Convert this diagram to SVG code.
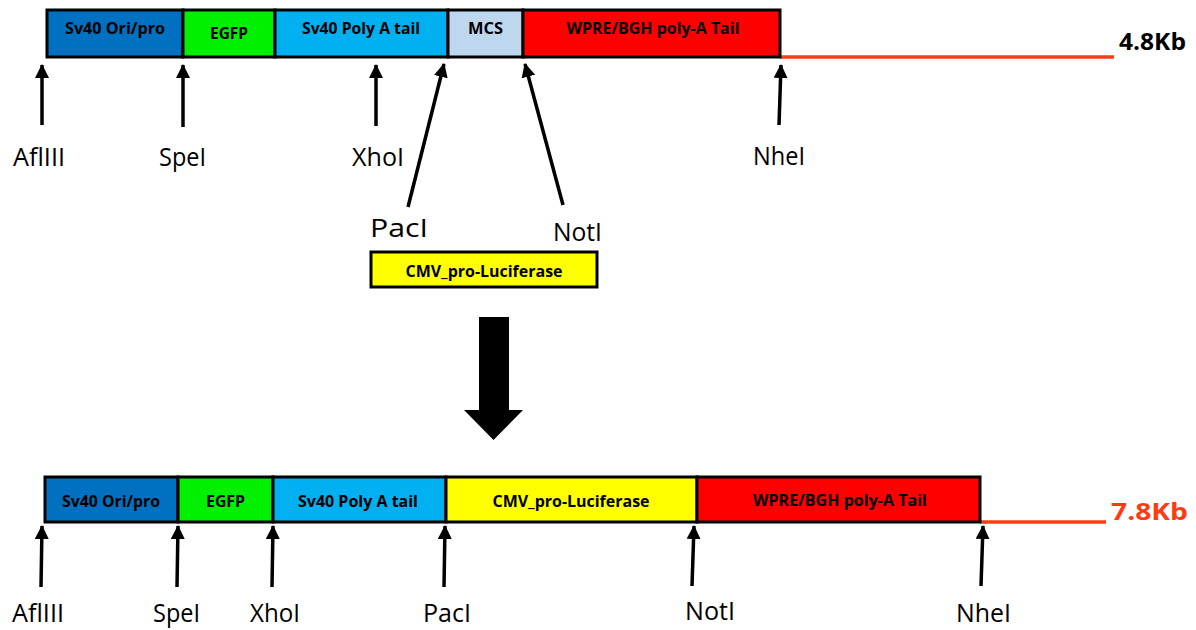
<svg xmlns="http://www.w3.org/2000/svg" width="1196" height="630" viewBox="0 0 1196 630">
  <defs>
    <marker id="head" viewBox="0 0 14 14" refX="13" refY="7" markerWidth="14" markerHeight="14" markerUnits="userSpaceOnUse" orient="auto">
      <path d="M0,0 L14,7 L0,14 Z" fill="#000"/>
    </marker>
    <style>
      .seg { stroke: #000; stroke-width: 3; }
      .segtxt { font-family: "Open Sans", "Liberation Sans", sans-serif; font-weight: bold; font-size: 16px; fill: #000; text-anchor: middle; }
      .site { font-family: "Open Sans", "Liberation Sans", sans-serif; font-size: 26px; fill: #000; }
      .size { font-family: "Open Sans", "Liberation Sans", sans-serif; font-weight: bold; font-size: 24px; }
      .ptr { stroke: #000; stroke-width: 3.5; fill: none; marker-end: url(#head); }
      .tail { stroke: #FF3B14; stroke-width: 3.5; }
    </style>
  </defs>
  <rect width="1196" height="630" fill="#fff"/>

  <!-- Original vector, 4.8 Kb -->
  <g id="vector-top">
    <line class="tail" x1="780" y1="57" x2="1114" y2="57"/>
    <g id="top-sv40-ori">
      <rect class="seg" x="47" y="10" width="136" height="47" fill="#0070C0"/>
      <text class="segtxt" x="115" y="34" textLength="100" lengthAdjust="spacingAndGlyphs">Sv40 Ori/pro</text>
    </g>
    <g id="top-egfp">
      <rect class="seg" x="183" y="10" width="92" height="47" fill="#00F000"/>
      <text class="segtxt" x="229" y="39" textLength="38" lengthAdjust="spacingAndGlyphs">EGFP</text>
    </g>
    <g id="top-sv40-polya">
      <rect class="seg" x="275" y="10" width="173" height="47" fill="#00B0F0"/>
      <text class="segtxt" x="361" y="34" textLength="118" lengthAdjust="spacingAndGlyphs">Sv40 Poly A tail</text>
    </g>
    <g id="top-mcs">
      <rect class="seg" x="448" y="10" width="75" height="47" fill="#BDD7EE"/>
      <text class="segtxt" x="485.5" y="34" textLength="35" lengthAdjust="spacingAndGlyphs">MCS</text>
    </g>
    <g id="top-wpre">
      <rect class="seg" x="523" y="10" width="257" height="47" fill="#FF0000"/>
      <text class="segtxt" x="653" y="34" textLength="173" lengthAdjust="spacingAndGlyphs">WPRE/BGH poly-A Tail</text>
    </g>
    <text class="size" x="1119" y="50" fill="#000" textLength="67" lengthAdjust="spacingAndGlyphs">4.8Kb</text>
  </g>

  <!-- Insert cassette -->
  <g id="insert">
    <rect class="seg" x="371" y="252" width="226" height="35" fill="#FFFF00"/>
    <text class="segtxt" x="484" y="277" textLength="157" lengthAdjust="spacingAndGlyphs">CMV_pro-Luciferase</text>
  </g>

  <!-- Restriction site pointers -->
  <g id="connectors">
    <line class="ptr" x1="42" y1="125" x2="42" y2="65"/>
    <line class="ptr" x1="183" y1="127" x2="183" y2="65"/>
    <line class="ptr" x1="376" y1="126" x2="376" y2="65"/>
    <line class="ptr" x1="779" y1="125" x2="781" y2="65"/>
    <line class="ptr" x1="408" y1="207" x2="444" y2="64"/>
    <line class="ptr" x1="563" y1="205" x2="525" y2="64"/>

    <line class="ptr" x1="41" y1="587" x2="42" y2="526"/>
    <line class="ptr" x1="177" y1="587" x2="178" y2="526"/>
    <line class="ptr" x1="272" y1="587" x2="273" y2="526"/>
    <line class="ptr" x1="444" y1="587" x2="445" y2="526"/>
    <line class="ptr" x1="692" y1="586" x2="694" y2="526"/>
    <line class="ptr" x1="981" y1="586" x2="983" y2="526"/>

    <!-- Block arrow between the two constructs -->
    <path d="M479,317 H509 V410 H523 L493.5,440 L464,410 H479 Z" fill="#000"/>
  </g>

  <!-- Site labels, top -->
  <g id="labels-top">
    <text class="site" x="13" y="166" textLength="52" lengthAdjust="spacingAndGlyphs">AflIII</text>
    <text class="site" x="159" y="166" textLength="47" lengthAdjust="spacingAndGlyphs">SpeI</text>
    <text class="site" x="352" y="166" textLength="52" lengthAdjust="spacingAndGlyphs">XhoI</text>
    <text class="site" x="753" y="165" textLength="52" lengthAdjust="spacingAndGlyphs">NheI</text>
    <text class="site" x="370" y="237" textLength="58" lengthAdjust="spacingAndGlyphs">PacI</text>
    <text class="site" x="553" y="241" textLength="49" lengthAdjust="spacingAndGlyphs">NotI</text>
  </g>

  <!-- Recombinant vector, 7.8 Kb -->
  <g id="vector-bottom">
    <line class="tail" x1="980" y1="522" x2="1106" y2="522"/>
    <g id="bot-sv40-ori">
      <rect class="seg" x="45" y="477" width="133" height="45" fill="#0070C0"/>
      <text class="segtxt" x="111" y="507" textLength="98" lengthAdjust="spacingAndGlyphs">Sv40 Ori/pro</text>
    </g>
    <g id="bot-egfp">
      <rect class="seg" x="178" y="477" width="95" height="45" fill="#00F000"/>
      <text class="segtxt" x="225.5" y="507" textLength="39" lengthAdjust="spacingAndGlyphs">EGFP</text>
    </g>
    <g id="bot-sv40-polya">
      <rect class="seg" x="273" y="477" width="173" height="45" fill="#00B0F0"/>
      <text class="segtxt" x="358" y="507" textLength="120" lengthAdjust="spacingAndGlyphs">Sv40 Poly A tail</text>
    </g>
    <g id="bot-cmv">
      <rect class="seg" x="446" y="477" width="251" height="45" fill="#FFFF00"/>
      <text class="segtxt" x="571" y="507" textLength="157" lengthAdjust="spacingAndGlyphs">CMV_pro-Luciferase</text>
    </g>
    <g id="bot-wpre">
      <rect class="seg" x="697" y="477" width="283" height="45" fill="#FF0000"/>
      <text class="segtxt" x="840" y="506" textLength="174" lengthAdjust="spacingAndGlyphs">WPRE/BGH poly-A Tail</text>
    </g>
    <text class="size" x="1111" y="520" fill="#FF3B14" textLength="77" lengthAdjust="spacingAndGlyphs">7.8Kb</text>
  </g>

  <!-- Site labels, bottom -->
  <g id="labels-bottom">
    <text class="site" x="12" y="622" textLength="52" lengthAdjust="spacingAndGlyphs">AflIII</text>
    <text class="site" x="153" y="622" textLength="47" lengthAdjust="spacingAndGlyphs">SpeI</text>
    <text class="site" x="250" y="622" textLength="50" lengthAdjust="spacingAndGlyphs">XhoI</text>
    <text class="site" x="423" y="622" textLength="48" lengthAdjust="spacingAndGlyphs">PacI</text>
    <text class="site" x="685" y="620" textLength="50" lengthAdjust="spacingAndGlyphs">NotI</text>
    <text class="site" x="956" y="622" textLength="55" lengthAdjust="spacingAndGlyphs">NheI</text>
  </g>
</svg>
